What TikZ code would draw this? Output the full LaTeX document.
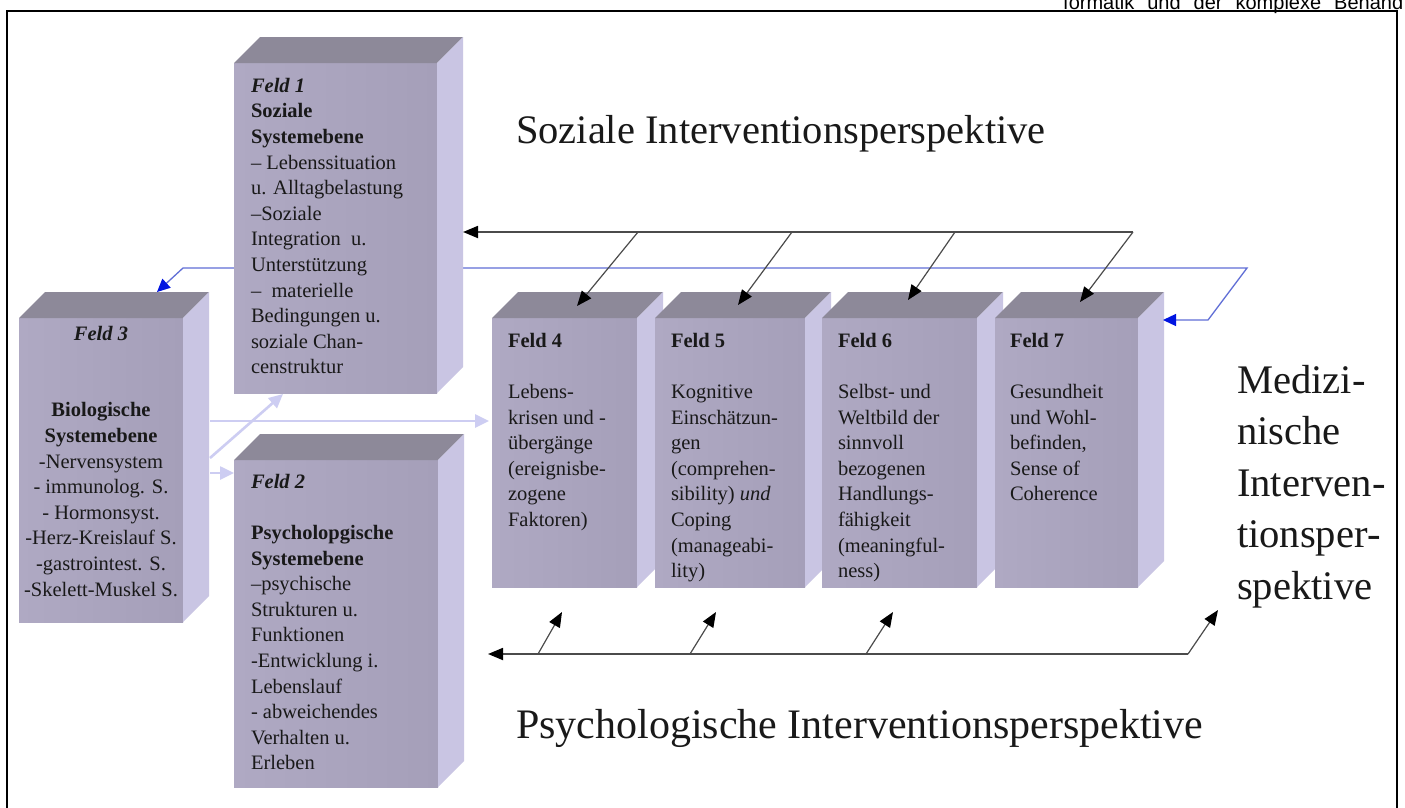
\documentclass[tikz,border=0pt]{standalone}
\usepackage{fontspec}
\setmainfont{Liberation Serif}
\newfontfamily\hdrfont{Liberation Sans}
\usetikzlibrary{arrows.meta,calc}

\definecolor{frontl}{RGB}{175,169,195}
\definecolor{frontr}{RGB}{165,159,185}
\definecolor{topc}{RGB}{141,137,153}
\definecolor{sidec}{RGB}{201,197,227}
\definecolor{lavline}{RGB}{205,205,242}
\definecolor{blueline}{RGB}{96,110,214}
\definecolor{bluehead}{RGB}{0,20,225}
\definecolor{darkline}{RGB}{75,75,75}
\definecolor{ink}{RGB}{25,25,25}

% a lit block: front face as a named node, then its top and right faces
\newcommand\drawcuboid[5]{%
  \node[frontface, minimum width=#4pt, minimum height=#5pt, anchor=north west] (#1) at (#2,#3) {};
  \fill[topc] (#1.north west) -- ++(26,-26) -- ($(#1.north east)+(26,-26)$) -- (#1.north east) -- cycle;
  \fill[sidec] (#1.north east) -- ++(26,-26) -- ($(#1.south east)+(26,-26)$) -- (#1.south east) -- cycle;
}

\begin{document}
\begin{tikzpicture}[x=1pt,y=-1pt,
  frontface/.style={draw=none, inner sep=0pt, outer sep=0pt, left color=frontl, right color=frontr},
  boxtxt/.style={inner sep=0pt, outer sep=0pt, align=left, text=ink,
                 font=\fontsize{20.5}{25.6}\selectfont},
  bigtxt/.style={inner sep=0pt, outer sep=0pt, align=left, text=ink},
  soc/.style={draw=darkline, line width=1.8pt},
  socarr/.style={draw=darkline, line width=1.2pt, -{Triangle[length=15pt,width=12pt,color=black]}},
  psyarr/.style={draw=darkline, line width=1.2pt, -{Triangle[length=15pt,width=12pt,color=black]}},
  medline/.style={draw=blueline, line width=1.3pt,
                  {Triangle[length=13pt,width=12pt,color=bluehead]}-{Triangle[length=13pt,width=12pt,color=bluehead]}},
  biolink/.style={draw=lavline, line width=2.6pt, -{Triangle[length=14pt,width=13pt]}}
]
\useasboundingbox (0,0) rectangle (1405,807);
\fill[white] (0,0) rectangle (1405,807);

% page header and frame
\node[anchor=base west, inner sep=0pt, font=\hdrfont\fontsize{20}{24}\selectfont] (hdr) at (1063,9)
  {\makebox[340pt][s]{formatik und der komplexe Behand}};
\draw[line width=2pt] (7,11) rectangle (1397,850);

% blocks that lie under the medical connector
\drawcuboid{f3}{19}{318}{164}{304}
\drawcuboid{f4}{492}{318}{145}{269}
\drawcuboid{f5}{655}{318}{150}{269}
\drawcuboid{f6}{822}{318}{155}{269}
\drawcuboid{f7}{995}{318}{143}{269}
\drawcuboid{f2}{234}{460}{204}{327}

% medical intervention connector (passes behind Feld 1)
\coordinate (b3) at ($(f3.north east)+(-26,-26)$);
\coordinate (b7) at ($(f7.north east)+(25,2)$);
\coordinate (bL) at (183,268);
\coordinate (bR) at (1247,268);
\coordinate (bK) at (1208,320);
\draw[medline] (b3) -- (bL) -- (bR) -- (bK) -- (b7);

% biological links from Feld 3
\coordinate (l1) at (210,458);
\coordinate (l4) at (210,421);
\coordinate (l2) at (210,473);
\coordinate (t1) at (283,394);
\coordinate (t4) at ($(f4.north west)+(-3,103)$);
\coordinate (t2) at ($(f2.north west)+(0,13)$);
\draw[biolink] (l1) -- (t1);
\draw[biolink] (l4) -- (t4);
\draw[biolink] (l2) -- (t2);

\drawcuboid{f1}{234}{63}{203}{330}

% social intervention perspective
\coordinate (s0) at (1133,232);
\coordinate (s1) at ($(f1.north east)+(26,169)$);
\draw[soc, -{Triangle[length=15pt,width=12pt,color=black]}] (s0) -- (s1);
\coordinate (sd4) at (638,232);
\coordinate (sd5) at (792,232);
\coordinate (sd6) at (955,232);
\draw[socarr] (sd4) -- ($(f4.north west)+(85,-12)$);
\draw[socarr] (sd5) -- ($(f5.north west)+(83,-13)$);
\draw[socarr] (sd6) -- ($(f6.north west)+(86,-18)$);
\draw[socarr] (s0) -- ($(f7.north west)+(85,-16)$);

% psychological intervention perspective
\coordinate (p0) at (1188,654);
\coordinate (pL) at (488,654);
\draw[soc, -{Triangle[length=15pt,width=12pt,color=black]}] (p0) -- (pL);
\coordinate (pd4) at (538,654);
\coordinate (pd5) at (690,654);
\coordinate (pd6) at (866,654);
\draw[psyarr] (pd4) -- ($(f4.south west)+(70,25)$);
\draw[psyarr] (pd5) -- ($(f5.south west)+(61,25)$);
\draw[psyarr] (pd6) -- ($(f6.south west)+(71,25)$);
\draw[psyarr] (p0) -- ($(f7.south west)+(223,23)$);

% block texts
\node[boxtxt, anchor=north west] (x1) at (251,78)
  {\textbf{\textit{Feld 1}}\\
   \textbf{Soziale}\\
   \textbf{Systemebene}\\
   -- Lebenssituation\\
   u. Alltagbelastung\\
   --Soziale\\
   Integration~~u.\\
   Unterstützung\\
   --~~materielle\\
   Bedingungen u.\\
   soziale Chan-\\
   censtruktur};
\node[boxtxt, anchor=north, align=center] (x3) at (101,326)
  {\textbf{\textit{Feld 3}}\\[51pt]
   \textbf{Biologische}\\
   \textbf{Systemebene}\\
   -Nervensystem\\
   - immunolog. S.\\
   - Hormonsyst.\\
   -Herz-Kreislauf S.\\
   -gastrointest. S.\\
   -Skelett-Muskel S.};
\node[boxtxt, anchor=north west] (x2) at (251,474)
  {\textbf{\textit{Feld 2}}\\[25.6pt]
   \textbf{Psycholopgische}\\
   \textbf{Systemebene}\\
   --psychische\\
   Strukturen u.\\
   Funktionen\\
   -Entwicklung i.\\
   Lebenslauf\\
   - abweichendes\\
   Verhalten u.\\
   Erleben};
\node[boxtxt, anchor=north west] (x4) at (508,333)
  {\textbf{Feld 4}\\[25.6pt]
   Lebens-\\
   krisen und -\\
   übergänge\\
   (ereignisbe-\\
   zogene\\
   Faktoren)};
\node[boxtxt, anchor=north west] (x5) at (671,333)
  {\textbf{Feld 5}\\[25.6pt]
   Kognitive\\
   Einschätzun-\\
   gen\\
   (comprehen-\\
   sibility) \textit{und}\\
   Coping\\
   (manageabi-\\
   lity)};
\node[boxtxt, anchor=north west] (x6) at (838,333)
  {\textbf{Feld 6}\\[25.6pt]
   Selbst- und\\
   Weltbild der\\
   sinnvoll\\
   bezogenen\\
   Handlungs-\\
   fähigkeit\\
   (meaningful-\\
   ness)};
\node[boxtxt, anchor=north west] (x7) at (1010,333)
  {\textbf{Feld 7}\\[25.6pt]
   Gesundheit\\
   und Wohl-\\
   befinden,\\
   Sense of\\
   Coherence};

% perspective titles
\node[bigtxt, anchor=base west, font=\fontsize{40.5}{48}\selectfont] (soz) at (516,143)
  {Soziale Interventionsperspektive};
\node[bigtxt, anchor=base west, font=\fontsize{42}{50}\selectfont] (psy) at (516,738)
  {Psychologische Interventionsperspektive};
\node[bigtxt, anchor=north west, font=\fontsize{40.6}{51.5}\selectfont] (med) at (1237,365)
  {Medizi-\\nische\\Interven-\\tionsper-\\spektive};
\end{tikzpicture}
\end{document}
